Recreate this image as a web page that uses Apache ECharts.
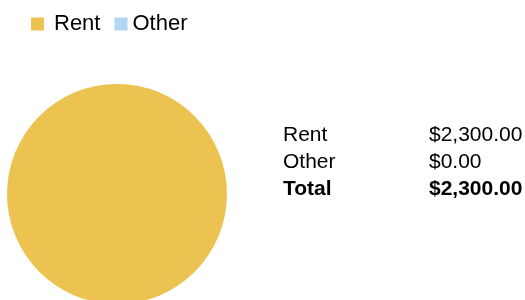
<!DOCTYPE html>
<html>
<head>
<meta charset="utf-8">
<script src="https://cdn.jsdelivr.net/npm/echarts@6/dist/echarts.min.js"></script>
<style>
html, body { margin: 0; padding: 0; background: #fff; }
#main { width: 525px; height: 300px; }
</style>
</head>
<body>
<div id="main"></div>
<script>
// data
var categories = ['Rent', 'Other'];
var amounts = [2300, 0];
var colors = ['#ECC351', '#AED6F5'];

function money(v) {
    return '$' + v.toFixed(2).replace(/\B(?=(\d{3})+(?!\d))/g, ',');
}

var total = 0;
for (var i = 0; i < amounts.length; i++) total += amounts[i];

// summary table on the right
var rows = [];
for (var i = 0; i < categories.length; i++) {
    rows.push([categories[i], money(amounts[i]), false]);
}
rows.push(['Total', money(total), true]);

var graphics = [];
for (var r = 0; r < rows.length; r++) {
    var y = 135.5 + r * 27;
    var font = (rows[r][2] ? 'bold ' : '') + '21px "Liberation Sans", Arial, sans-serif';
    graphics.push({ type: 'text', style: { x: 283, y: y, text: rows[r][0], font: font, fill: '#000', verticalAlign: 'middle' } });
    graphics.push({ type: 'text', style: { x: 429, y: y, text: rows[r][1], font: font, fill: '#000', verticalAlign: 'middle' } });
}

var myChart = echarts.init(document.getElementById('main'));
var option = {
    animation: false,
    color: colors,
    legend: {
        left: 31,
        top: 13,
        padding: 0,
        itemWidth: 13,
        itemHeight: 13,
        itemGap: 14,
        icon: 'rect',
        textStyle: { fontSize: 22, color: '#000', fontFamily: '"Liberation Sans", Arial, sans-serif' },
        data: [
            { name: categories[0], textStyle: { padding: [0, 0, 0, 5] } },
            { name: categories[1] }
        ]
    },
    graphic: graphics,
    series: [{
        type: 'pie',
        center: [117, 194],
        radius: 110,
        silent: true,
        label: { show: false },
        labelLine: { show: false },
        data: categories.map(function (c, i) { return { name: c, value: amounts[i] }; })
    }]
};
myChart.setOption(option);
</script>
</body>
</html>
